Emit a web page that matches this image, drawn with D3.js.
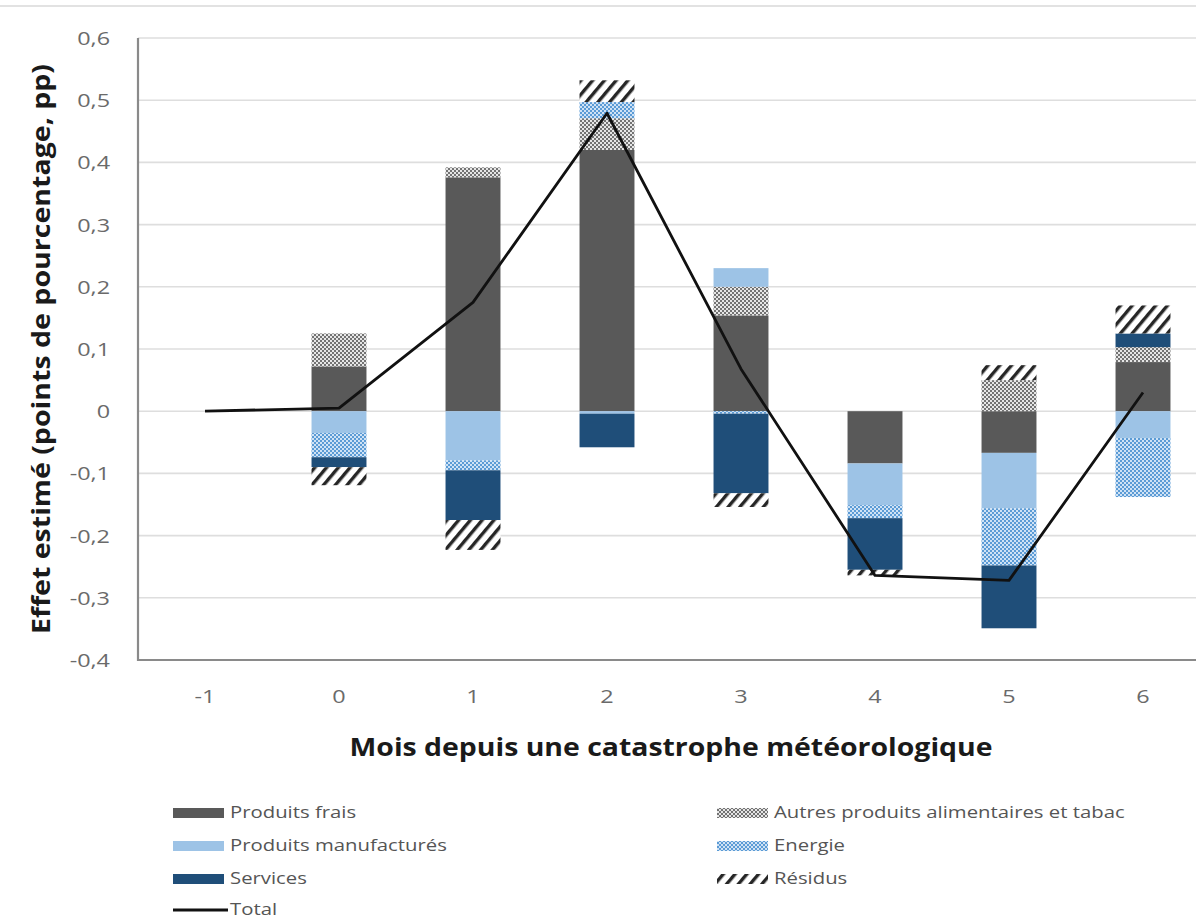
<!DOCTYPE html>
<html lang="fr">
<head>
<meta charset="utf-8">
<script src="https://cdn.jsdelivr.net/npm/d3@7"></script>
<style>
  html, body { margin: 0; padding: 0; background: #fff; }
  svg { display: block; }
</style>
</head>
<body>
<svg id="chart" width="1196" height="922"></svg>
<script>
// Mois depuis la catastrophe
const months = ["-1", "0", "1", "2", "3", "4", "5", "6"];

// Contributions estimées (points de pourcentage)
const produitsFrais   = [0, 0.072, 0.376, 0.420, 0.154, -0.084, -0.067, 0.079];
const autresAliment   = [0, 0.053, 0.016, 0.051, 0.046, 0.000, 0.050, 0.024];
const manufactures    = [0, -0.035, -0.079, -0.004, 0.030, -0.067, -0.089, -0.043];
const energie         = [0, -0.039, -0.016, 0.026, -0.004, -0.021, -0.092, -0.095];
const services        = [0, -0.016, -0.080, -0.054, -0.128, -0.083, -0.101, 0.022];
const residus         = [0, -0.029, -0.048, 0.035, -0.022, -0.009, 0.024, 0.045];
const total           = [0, 0.005, 0.175, 0.479, 0.068, -0.264, -0.272, 0.030];

const yTicks = [-0.4, -0.3, -0.2, -0.1, 0, 0.1, 0.2, 0.3, 0.4, 0.5, 0.6];

const seriesDefs = [
  { key: "frais",  label: "Produits frais",                         values: produitsFrais, fill: "#595959" },
  { key: "autres", label: "Autres produits alimentaires et tabac",  values: autresAliment, fill: "url(#pat-autres)" },
  { key: "manuf",  label: "Produits manufacturés",                  values: manufactures,  fill: "#9dc3e6" },
  { key: "energ",  label: "Energie",                                values: energie,       fill: "url(#pat-energie)" },
  { key: "serv",   label: "Services",                               values: services,      fill: "#1f4e79" },
  { key: "resid",  label: "Résidus",                                values: residus,       fill: "url(#pat-residus)" }
];

const svg = d3.select("#chart");
const W = 1196, H = 922;
const plot = { left: 138, right: 1210, top: 38, bottom: 660 };

// stretch text horizontally to mimic the wide rendering of the labels
function stretch(sel, factor) {
  sel.each(function () {
    const len = this.getComputedTextLength();
    d3.select(this).attr("textLength", len * factor).attr("lengthAdjust", "spacingAndGlyphs");
  });
}
function fitTo(sel, width) {
  sel.attr("textLength", width).attr("lengthAdjust", "spacingAndGlyphs");
}

// ---- patterns ----
const defs = svg.append("defs");
const pa = defs.append("pattern").attr("id", "pat-autres")
  .attr("patternUnits", "userSpaceOnUse").attr("width", 4).attr("height", 4);
pa.append("rect").attr("width", 4).attr("height", 4).attr("fill", "#e6e6e6");
pa.append("rect").attr("width", 2).attr("height", 2).attr("fill", "#737373");
pa.append("rect").attr("x", 2).attr("y", 2).attr("width", 2).attr("height", 2).attr("fill", "#737373");

const pe = defs.append("pattern").attr("id", "pat-energie")
  .attr("patternUnits", "userSpaceOnUse").attr("width", 4).attr("height", 4);
pe.append("rect").attr("width", 4).attr("height", 4).attr("fill", "#cfe2f5");
pe.append("rect").attr("width", 2).attr("height", 2).attr("fill", "#5b9bd5");
pe.append("rect").attr("x", 2).attr("y", 2).attr("width", 2).attr("height", 2).attr("fill", "#5b9bd5");

const pr = defs.append("pattern").attr("id", "pat-residus")
  .attr("patternUnits", "userSpaceOnUse").attr("width", 9).attr("height", 9)
  .attr("patternTransform", "rotate(40)");
pr.append("rect").attr("width", 9).attr("height", 9).attr("fill", "#ffffff");
pr.append("rect").attr("width", 3.4).attr("height", 9).attr("fill", "#262626");

// ---- frame top line ----
svg.append("line").attr("x1", 0).attr("x2", W).attr("y1", 6).attr("y2", 6)
  .attr("stroke", "#e2e2e2").attr("stroke-width", 2);

// ---- scales ----
const x = d3.scaleBand().domain(months).range([plot.left, plot.right])
  .paddingInner(0.59).paddingOuter(0.295);
const y = d3.scaleLinear().domain([-0.4, 0.6]).range([plot.bottom, plot.top]);

// ---- gridlines ----
svg.append("g").selectAll("line").data(yTicks.filter(d => d !== -0.4)).join("line")
  .attr("x1", plot.left).attr("x2", plot.right)
  .attr("y1", d => y(d)).attr("y2", d => y(d))
  .attr("stroke", "#dedede").attr("stroke-width", 1.6);

// ---- stacked bars (diverging) ----
const rows = months.map((m, i) => {
  const r = { month: m };
  seriesDefs.forEach(s => { r[s.key] = s.values[i]; });
  return r;
});
const stack = d3.stack().keys(seriesDefs.map(s => s.key)).offset(d3.stackOffsetDiverging);
const stacked = stack(rows);

svg.append("g").selectAll("g").data(stacked).join("g")
  .attr("fill", (d, i) => seriesDefs[i].fill)
  .selectAll("rect").data(d => d).join("rect")
  .attr("x", d => x(d.data.month))
  .attr("width", x.bandwidth())
  .attr("y", d => y(Math.max(d[0], d[1])))
  .attr("height", d => Math.abs(y(d[0]) - y(d[1])));

// ---- axes ----
const axisColor = "#8a8a8a";
svg.append("line").attr("x1", plot.left).attr("x2", plot.left)
  .attr("y1", plot.top).attr("y2", plot.bottom + 1)
  .attr("stroke", axisColor).attr("stroke-width", 2.2);
svg.append("line").attr("x1", plot.left - 1).attr("x2", plot.right)
  .attr("y1", plot.bottom).attr("y2", plot.bottom)
  .attr("stroke", axisColor).attr("stroke-width", 2.2);

const fmt = d => d === 0 ? "0" : d3.format(".1f")(d).replace(".", ",").replace("−", "-");
const yAxis = svg.append("g").attr("transform", `translate(${plot.left},0)`)
  .call(d3.axisLeft(y).tickValues(yTicks).tickFormat(fmt).tickSize(0).tickPadding(28));
yAxis.select(".domain").remove();
yAxis.selectAll("text")
  .attr("font-family", "Open Sans, sans-serif").attr("font-size", 18)
  .attr("fill", "#6a6a6a").attr("dy", "0.36em");
stretch(yAxis.selectAll("text"), 1.3);

const xAxis = svg.append("g").attr("transform", `translate(0,${plot.bottom})`)
  .call(d3.axisBottom(x).tickSize(0).tickPadding(30));
xAxis.select(".domain").remove();
xAxis.selectAll("text")
  .attr("font-family", "Open Sans, sans-serif").attr("font-size", 18)
  .attr("fill", "#6a6a6a");
stretch(xAxis.selectAll("text"), 1.3);

// ---- total line ----
const line = d3.line()
  .x((d, i) => x(months[i]) + x.bandwidth() / 2)
  .y(d => y(d));
svg.append("path").datum(total)
  .attr("d", line).attr("fill", "none")
  .attr("stroke", "#111").attr("stroke-width", 2.8).attr("stroke-linejoin", "round");

// ---- axis titles ----
const yTitle = svg.append("text")
  .attr("transform", "translate(50,349) rotate(-90)")
  .attr("text-anchor", "middle")
  .attr("font-family", "Open Sans, sans-serif").attr("font-weight", 700)
  .attr("font-size", 25).attr("fill", "#1a1a1a")
  .text("Effet estimé  (points de pourcentage, pp)");
fitTo(yTitle, 570);

const xTitle = svg.append("text")
  .attr("x", 671).attr("y", 756)
  .attr("text-anchor", "middle")
  .attr("font-family", "Open Sans, sans-serif").attr("font-weight", 700)
  .attr("font-size", 25).attr("fill", "#1a1a1a")
  .text("Mois depuis une catastrophe météorologique");
fitTo(xTitle, 643);

// ---- legend ----
const legendItems = [
  { label: "Produits frais", fill: "#595959", col: 0, row: 0 },
  { label: "Produits manufacturés", fill: "#9dc3e6", col: 0, row: 1 },
  { label: "Services", fill: "#1f4e79", col: 0, row: 2 },
  { label: "Total", line: true, col: 0, row: 3 },
  { label: "Autres produits alimentaires et tabac", fill: "url(#pat-autres)", col: 1, row: 0 },
  { label: "Energie", fill: "url(#pat-energie)", col: 1, row: 1 },
  { label: "Résidus", fill: "url(#pat-residus)", col: 1, row: 2 }
];
const colX = [173, 717];
const rowY = [813, 846, 879, 910];
const lg = svg.append("g").selectAll("g").data(legendItems).join("g")
  .attr("transform", d => `translate(${colX[d.col]},${rowY[d.row]})`);
lg.filter(d => !d.line).append("rect")
  .attr("x", 0).attr("y", -5).attr("width", 51).attr("height", 10)
  .attr("fill", d => d.fill);
lg.filter(d => d.line).append("line")
  .attr("x1", 0).attr("x2", 55).attr("y1", 0).attr("y2", 0)
  .attr("stroke", "#111").attr("stroke-width", 2.8);
const lgText = lg.append("text")
  .attr("x", 57)
  .attr("dy", "0.35em")
  .attr("font-family", "Open Sans, sans-serif").attr("font-size", 15.5)
  .attr("fill", "#555")
  .text(d => d.label);
stretch(lgText, 1.31);
</script>
</body>
</html>
